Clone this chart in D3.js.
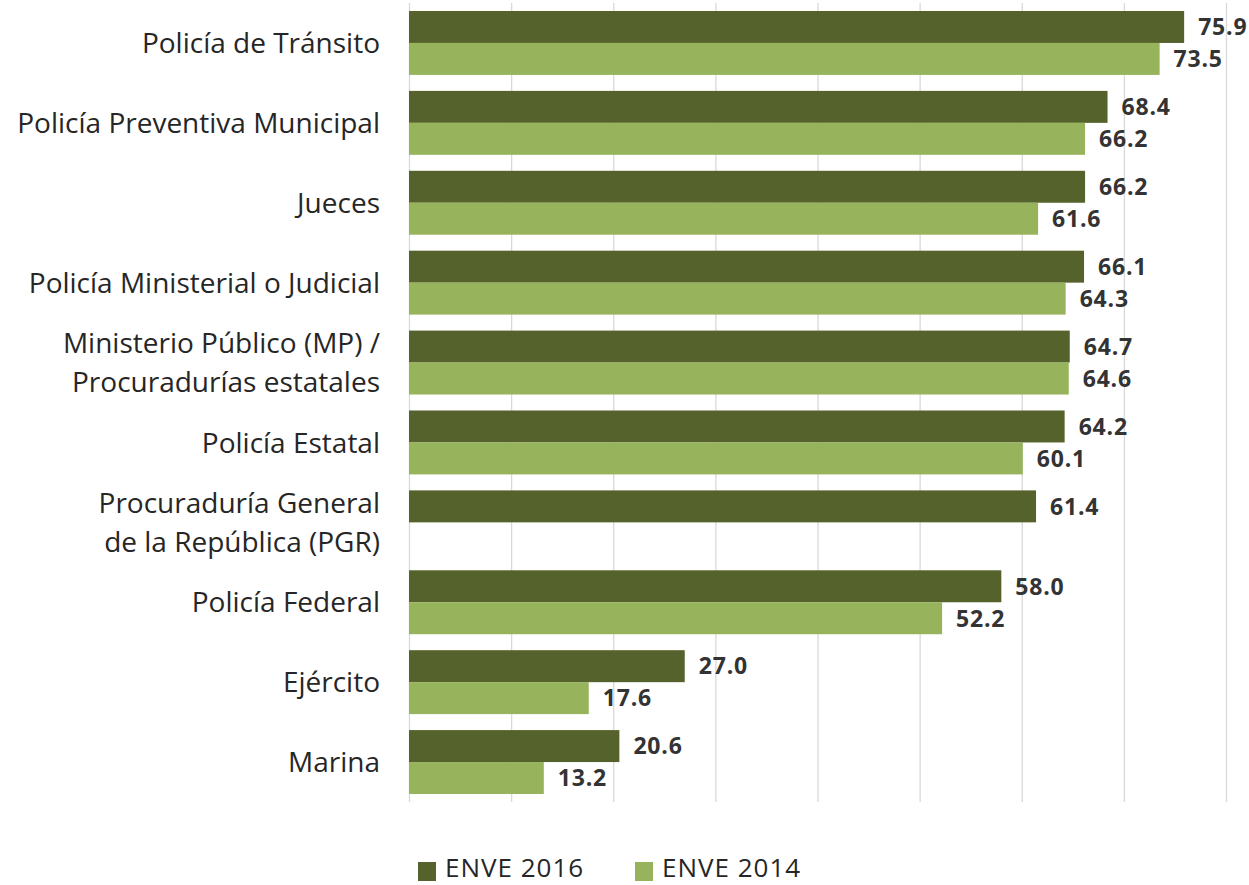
<!DOCTYPE html>
<html>
<head>
<meta charset="utf-8">
<script src="https://cdn.jsdelivr.net/npm/d3@7"></script>
<style>
  body { margin: 0; background: #fff; }
  text { font-family: "Open Sans", sans-serif; }
</style>
</head>
<body>
<svg id="chart" width="1249" height="885"></svg>
<script>
// categories, top to bottom
const categories = [
  "Policía de Tránsito",
  "Policía Preventiva Municipal",
  "Jueces",
  "Policía Ministerial o Judicial",
  "Ministerio Público (MP) /|Procuradurías estatales",
  "Policía Estatal",
  "Procuraduría General|de la República (PGR)",
  "Policía Federal",
  "Ejército",
  "Marina"
];
const seriesNames = ["ENVE 2016", "ENVE 2014"];
const enve2016 = [75.9, 68.4, 66.2, 66.1, 64.7, 64.2, 61.4, 58.0, 27.0, 20.6];
const enve2014 = [73.5, 66.2, 61.6, 64.3, 64.6, 60.1, null, 52.2, 17.6, 13.2];
const xTicks = [0, 10, 20, 30, 40, 50, 60, 70, 80];
const colors = ["#55622b", "#97b35b"];

const svg = d3.select("#chart");
const margin = { top: 3, left: 409, right: 23, bottom: 83 };
const width = 1249 - margin.left - margin.right;
const height = 885 - margin.top - margin.bottom;

const g = svg.append("g").attr("transform", `translate(${margin.left},${margin.top})`);

const x = d3.scaleLinear().domain([0, 80]).range([0, width]);
const y0 = d3.scaleBand().domain(d3.range(categories.length)).range([0, height]).paddingInner(0.2).paddingOuter(0.1);
const y1 = d3.scaleBand().domain([0, 1]).range([0, y0.bandwidth()]);

// gridlines
g.append("g")
  .attr("class", "grid")
  .call(d3.axisBottom(x).tickValues(xTicks).tickSize(height).tickFormat(""))
  .call(s => s.select(".domain").remove())
  .call(s => s.selectAll("line").attr("stroke", "#d9d9d9").attr("stroke-width", 1.3));

// data rows
const rows = categories.map((c, i) => ({ i, vals: [enve2016[i], enve2014[i]] }));

const groups = g.selectAll(".row")
  .data(rows)
  .enter()
  .append("g")
  .attr("class", "row")
  .attr("transform", d => `translate(0,${y0(d.i)})`);

const cells = groups.selectAll(".cell")
  .data(d => d.vals.map((v, k) => ({ k, v })).filter(e => e.v != null))
  .enter();

cells.append("rect")
  .attr("x", 0)
  .attr("y", d => y1(d.k))
  .attr("width", d => x(d.v))
  .attr("height", y1.bandwidth())
  .attr("fill", d => colors[d.k]);

cells.append("text")
  .attr("x", d => x(d.v) + 14)
  .attr("y", d => y1(d.k) + y1.bandwidth() / 2)
  .attr("dy", "0.36em")
  .attr("font-size", 23)
  .attr("font-weight", "bold")
  .attr("letter-spacing", 0.8)
  .attr("fill", "#333")
  .text(d => d.v.toFixed(1));

// category labels
const labels = g.selectAll(".cat")
  .data(categories)
  .enter()
  .append("text")
  .attr("class", "cat")
  .attr("text-anchor", "end")
  .attr("font-size", 28)
  .attr("fill", "#262626")
  .attr("transform", (d, i) => `translate(-29,${y0(i) + y0.bandwidth() / 2})`);

labels.each(function(d) {
  const lines = d.split("|");
  const t = d3.select(this);
  lines.forEach((ln, j) => {
    t.append("tspan")
      .attr("x", 0)
      .attr("y", (j - (lines.length - 1) / 2) * 39)
      .attr("dy", "0.36em")
      .text(ln);
  });
});

// legend
const legend = svg.append("g").attr("transform", "translate(418,861)");
seriesNames.forEach((name, i) => {
  const lg = legend.append("g").attr("transform", `translate(${i * 217},0)`);
  lg.append("rect").attr("y", 1).attr("width", 18).attr("height", 19).attr("fill", colors[i]);
  lg.append("text")
    .attr("x", 27)
    .attr("y", 16)
    .attr("font-size", 26)
    .attr("letter-spacing", 1)
    .attr("fill", "#262626")
    .text(name);
});
</script>
</body>
</html>
